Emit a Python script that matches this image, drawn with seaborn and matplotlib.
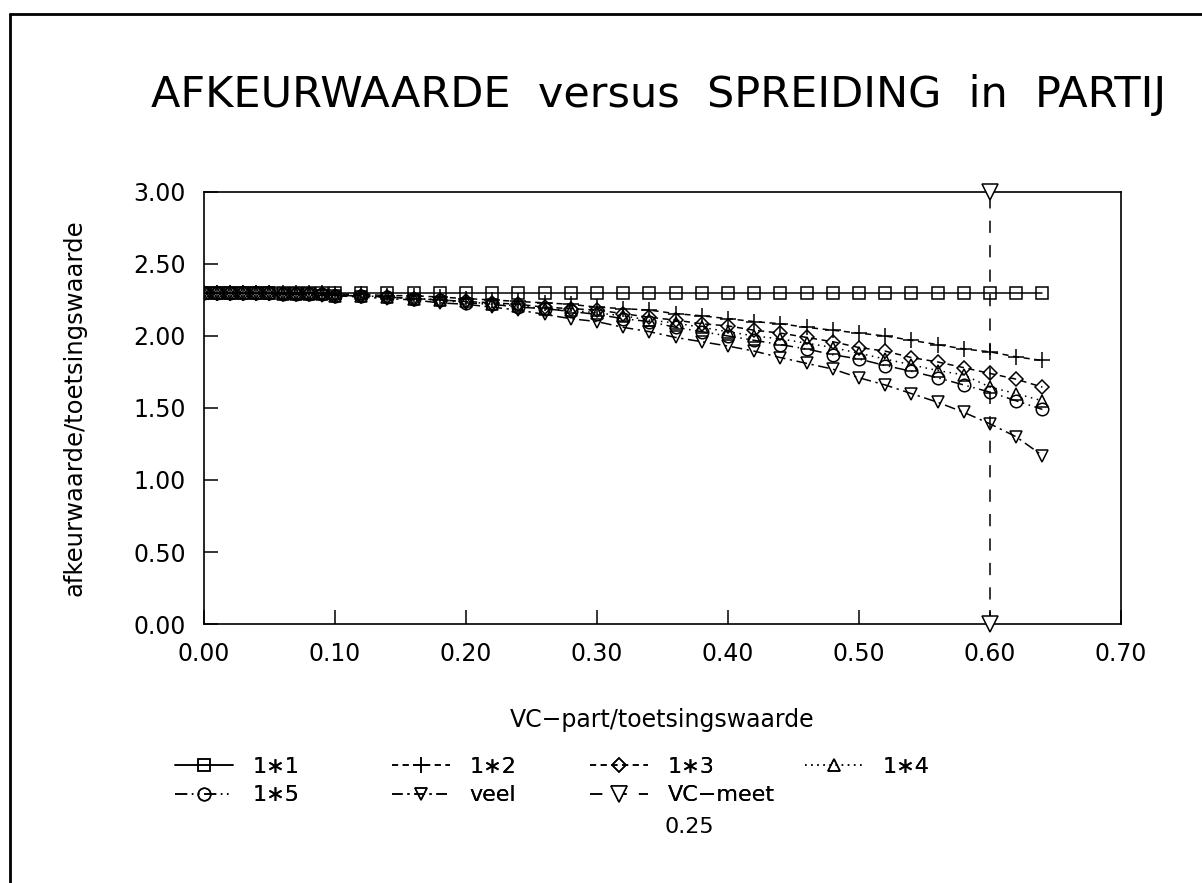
import matplotlib
matplotlib.use("Agg")
import matplotlib.pyplot as plt
from matplotlib.lines import Line2D
import seaborn as sns
import pandas as pd

# VC-part / toetsingswaarde
vc_part = [0.00, 0.01, 0.02, 0.03, 0.04, 0.05, 0.06, 0.07, 0.08, 0.09, 0.10,
           0.12, 0.14, 0.16, 0.18, 0.20, 0.22, 0.24, 0.26, 0.28, 0.30,
           0.32, 0.34, 0.36, 0.38, 0.40, 0.42, 0.44, 0.46, 0.48, 0.50,
           0.52, 0.54, 0.56, 0.58, 0.60, 0.62, 0.64]

# afkeurwaarde / toetsingswaarde per monsterneming
r_1x1 = [2.30] * 38
r_1x2 = [2.30, 2.30, 2.30, 2.30, 2.30, 2.30, 2.30, 2.30, 2.30, 2.30, 2.29,
         2.29, 2.28, 2.28, 2.27, 2.26, 2.25, 2.24, 2.23, 2.22, 2.20,
         2.19, 2.18, 2.155, 2.14, 2.12, 2.10, 2.085, 2.06, 2.04, 2.02,
         2.00, 1.97, 1.94, 1.91, 1.89, 1.855, 1.83]
r_1x3 = [2.30, 2.30, 2.30, 2.30, 2.30, 2.30, 2.29, 2.29, 2.29, 2.29, 2.28,
         2.28, 2.27, 2.26, 2.25, 2.24, 2.23, 2.22, 2.20, 2.19, 2.18,
         2.155, 2.13, 2.11, 2.085, 2.07, 2.04, 2.02, 1.99, 1.96, 1.92,
         1.895, 1.85, 1.82, 1.78, 1.74, 1.70, 1.645]
r_1x4 = [2.30, 2.30, 2.30, 2.30, 2.30, 2.30, 2.29, 2.29, 2.29, 2.29, 2.28,
         2.28, 2.27, 2.26, 2.25, 2.24, 2.22, 2.21, 2.19, 2.18, 2.16,
         2.14, 2.11, 2.09, 2.06, 2.03, 2.00, 1.98, 1.95, 1.92, 1.88,
         1.84, 1.80, 1.76, 1.73, 1.645, 1.60, 1.55]
r_1x5 = [2.30, 2.30, 2.30, 2.30, 2.30, 2.30, 2.29, 2.29, 2.29, 2.29, 2.28,
         2.28, 2.27, 2.26, 2.25, 2.23, 2.22, 2.20, 2.19, 2.17, 2.15,
         2.12, 2.10, 2.06, 2.03, 2.00, 1.97, 1.94, 1.91, 1.87, 1.84,
         1.795, 1.755, 1.71, 1.66, 1.61, 1.55, 1.49]
r_veel = [2.30, 2.30, 2.30, 2.30, 2.30, 2.295, 2.29, 2.29, 2.29, 2.28, 2.28,
          2.27, 2.26, 2.25, 2.23, 2.22, 2.20, 2.18, 2.15, 2.12, 2.10,
          2.06, 2.03, 1.99, 1.96, 1.93, 1.895, 1.85, 1.81, 1.77, 1.71,
          1.66, 1.60, 1.54, 1.47, 1.39, 1.30, 1.17]

# gemeten VC (verticale markering)
vc_meet_x = [0.60, 0.60]
vc_meet_y = [0.00, 3.00]

labels = ["1\u22171", "1\u22172", "1\u22173", "1\u22174", "1\u22175", "veel"]
series = [r_1x1, r_1x2, r_1x3, r_1x4, r_1x5, r_veel]
vc_label = "VC\u2212meet"
vc_value = "0.25"

x_ticks = [0.00, 0.10, 0.20, 0.30, 0.40, 0.50, 0.60, 0.70]
y_ticks = [0.00, 0.50, 1.00, 1.50, 2.00, 2.50, 3.00]

sns.set_theme(style="white")
plt.rcParams["font.family"] = ["DejaVu Sans"]

styles = {
    labels[0]: dict(marker="s", linestyle="-"),
    labels[1]: dict(marker="+", linestyle=(0, (4, 3)), markersize=11),
    labels[2]: dict(marker="D", linestyle=(0, (4, 3)), markersize=7),
    labels[3]: dict(marker="^", linestyle=(0, (1, 3))),
    labels[4]: dict(marker="o", linestyle=(0, (8, 3, 1, 3, 1, 3))),
    labels[5]: dict(marker="v", linestyle=(0, (7, 3, 1.5, 3))),
}

df = pd.DataFrame({
    "x": vc_part * len(labels),
    "y": sum(series, []),
    "serie": sum([[lab] * len(vc_part) for lab in labels], []),
})

fig = plt.figure(figsize=(12.02, 8.83), dpi=100)
ax = fig.add_axes([0.1697, 0.2933, 0.7629, 0.4893])

handles = {}
for lab in labels:
    st = dict(markersize=9, linewidth=1.1, color="black",
              markerfacecolor="none", markeredgecolor="black",
              markeredgewidth=1.1)
    st.update(styles[lab])
    sub = df[df["serie"] == lab]
    sns.lineplot(data=sub, x="x", y="y", ax=ax, legend=False,
                 estimator=None, sort=False, **st)
    handles[lab] = ax.lines[-1]

vc_df = pd.DataFrame({"x": vc_meet_x, "y": vc_meet_y})
sns.lineplot(data=vc_df, x="x", y="y", ax=ax, legend=False, estimator=None,
             sort=False, color="black", linewidth=1.1, marker="v",
             markersize=11, markerfacecolor="white", markeredgecolor="black",
             markeredgewidth=1.1, linestyle=(0, (8, 8)), clip_on=False,
             zorder=5)
handles[vc_label] = ax.lines[-1]

ax.set_xlim(0, 0.70)
ax.set_ylim(0, 3.00)
ax.set_xticks(x_ticks)
ax.set_yticks(y_ticks)
ax.set_xticklabels([f"{v:.2f}" for v in x_ticks])
ax.set_yticklabels([f"{v:.2f}" for v in y_ticks])
ax.tick_params(axis="both", direction="in", length=10, width=1.1,
               labelsize=17, pad=13, colors="black",
               top=False, right=False, left=True, bottom=True)
for sp in ax.spines.values():
    sp.set_visible(True)
    sp.set_color("black")
    sp.set_linewidth(1.2)

ax.set_xlabel("VC\u2212part/toetsingswaarde", fontsize=17, labelpad=30,
              color="black")
ax.set_ylabel("afkeurwaarde/toetsingswaarde", fontsize=17.5, labelpad=34,
              color="black")

fig.text(0.548, 0.892, "AFKEURWAARDE  versus  SPREIDING  in  PARTIJ",
         ha="center", va="center", fontsize=31, color="black")

# legend: four columns, placed individually
columns = [
    (175, [labels[0], labels[4]]),
    (392, [labels[1], labels[5]]),
    (590, [labels[2], vc_label]),
    (805, [labels[3]]),
]
W, H = 1202.0, 883.0
for xpix, keys in columns:
    leg = fig.legend([handles[k] for k in keys], keys, loc="upper left",
                     bbox_to_anchor=(xpix / W, 1 - 757 / H),
                     bbox_transform=fig.transFigure, frameon=False,
                     fontsize=16, handlelength=2.6, handletextpad=0.9,
                     labelspacing=0.38, borderpad=0, borderaxespad=0)
    for t in leg.get_texts():
        t.set_color("black")
    fig.add_artist(leg)

fig.text(665 / W, 1 - 827 / H, vc_value, ha="left", va="center",
         fontsize=16, color="black")

# page frame
fig.add_artist(Line2D([0.008, 1.0], [0.984, 0.984], color="black",
                      linewidth=2.0, transform=fig.transFigure))
fig.add_artist(Line2D([0.008, 0.008], [0.0, 0.984], color="black",
                      linewidth=2.0, transform=fig.transFigure))

fig.savefig("out.png", dpi=100)
